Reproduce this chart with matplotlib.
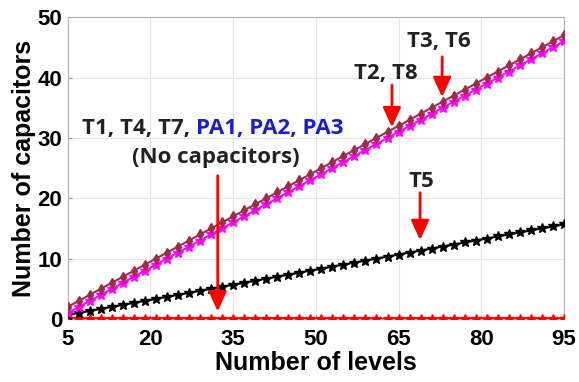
import matplotlib.pyplot as plt

levels = [5, 7, 9, 11, 13, 15, 17, 19, 21, 23, 25, 27, 29, 31, 33, 35, 37, 39, 41, 43,
          45, 47, 49, 51, 53, 55, 57, 59, 61, 63, 65, 67, 69, 71, 73, 75, 77, 79, 81, 83,
          85, 87, 89, 91, 93, 95]

# T3, T6
caps_t3 = [2, 3, 4, 5, 6, 7, 8, 9, 10, 11, 12, 13, 14, 15, 16, 17, 18, 19, 20, 21,
           22, 23, 24, 25, 26, 27, 28, 29, 30, 31, 32, 33, 34, 35, 36, 37, 38, 39, 40, 41,
           42, 43, 44, 45, 46, 47]
# T2, T8
caps_t2 = [1, 2, 3, 4, 5, 6, 7, 8, 9, 10, 11, 12, 13, 14, 15, 16, 17, 18, 19, 20,
           21, 22, 23, 24, 25, 26, 27, 28, 29, 30, 31, 32, 33, 34, 35, 36, 37, 38, 39, 40,
           41, 42, 43, 44, 45, 46]
# T5
caps_t5 = [0.67, 1.0, 1.33, 1.67, 2.0, 2.33, 2.67, 3.0, 3.33, 3.67, 4.0, 4.33, 4.67, 5.0,
           5.33, 5.67, 6.0, 6.33, 6.67, 7.0, 7.33, 7.67, 8.0, 8.33, 8.67, 9.0, 9.33, 9.67,
           10.0, 10.33, 10.67, 11.0, 11.33, 11.67, 12.0, 12.33, 12.67, 13.0, 13.33, 13.67,
           14.0, 14.33, 14.67, 15.0, 15.33, 15.67]
# T1, T4, T7, PA1, PA2, PA3
caps_none = [0] * 46

xticks = [5, 20, 35, 50, 65, 80, 95]
yticks = [0, 10, 20, 30, 40, 50]

plt.rcParams['font.family'] = 'Liberation Sans'

fig = plt.figure(figsize=(5.79, 3.82), dpi=100)
ax = fig.add_axes([0.117, 0.165, 0.857, 0.79])

ax.plot(levels, caps_none, color='red', marker='*', markersize=7, linewidth=1.5, zorder=3)
ax.plot(levels, caps_t5, color='black', marker='*', markersize=7, linewidth=1.5, zorder=3)
ax.plot(levels, caps_t2, color='#ff00ff', marker='*', markersize=7, linewidth=1.5, zorder=3)
ax.plot(levels, caps_t3, color='#9e2c4a', marker='d', markersize=5.5, linewidth=1.5, zorder=3)

ax.set_xlim(5, 95)
ax.set_ylim(0, 50)
ax.set_xticks(xticks)
ax.set_yticks(yticks)
ax.grid(True, color='#e6e6e6', linewidth=0.8)
ax.tick_params(direction='in', length=3, color='#999999', labelsize=16)
ax.tick_params(axis='x', pad=7)
ax.tick_params(axis='y', pad=4)
for lab in ax.get_xticklabels() + ax.get_yticklabels():
    lab.set_fontweight('bold')
for s in ax.spines.values():
    s.set_color('#b0b0b0')
    s.set_linewidth(0.8)

ax.set_xlabel('Number of levels', fontsize=18, fontweight='bold', labelpad=1)
ax.set_ylabel('Number of capacitors', fontsize=18, fontweight='bold', labelpad=1)

arrow = dict(arrowstyle='-|>,head_width=0.55,head_length=1.2', color='red', lw=2)
ax.annotate('', xy=(32.2, 0.8), xytext=(32.2, 24.2), arrowprops=arrow, zorder=5)
ax.annotate('', xy=(63.8, 31.3), xytext=(63.8, 39.2), arrowprops=arrow, zorder=5)
ax.annotate('', xy=(72.9, 36.3), xytext=(72.9, 43.9), arrowprops=arrow, zorder=5)
ax.annotate('', xy=(68.9, 12.6), xytext=(68.9, 21.4), arrowprops=arrow, zorder=5)

tf = dict(fontsize=16, fontweight='bold', family='Open Sans', zorder=6)
t1 = ax.text(7.5, 31.6, 'T1, T4, T7, ', color='#222222', ha='left', va='center', **tf)
fig.canvas.draw()
bb = t1.get_window_extent().transformed(ax.transData.inverted())
ax.text(bb.x1, 31.6, 'PA1, PA2, PA3', color='#1a1ad8', ha='left', va='center', **tf)
ax.text(31.9, 26.8, '(No capacitors)', color='#222222', ha='center', va='center', **tf)
ax.text(62.7, 40.7, 'T2, T8', color='#222222', ha='center', va='center', **tf)
ax.text(72.3, 45.9, 'T3, T6', color='#222222', ha='center', va='center', **tf)
ax.text(69.2, 22.8, 'T5', color='#222222', ha='center', va='center', **tf)

fig.savefig('out.png', dpi=100)
